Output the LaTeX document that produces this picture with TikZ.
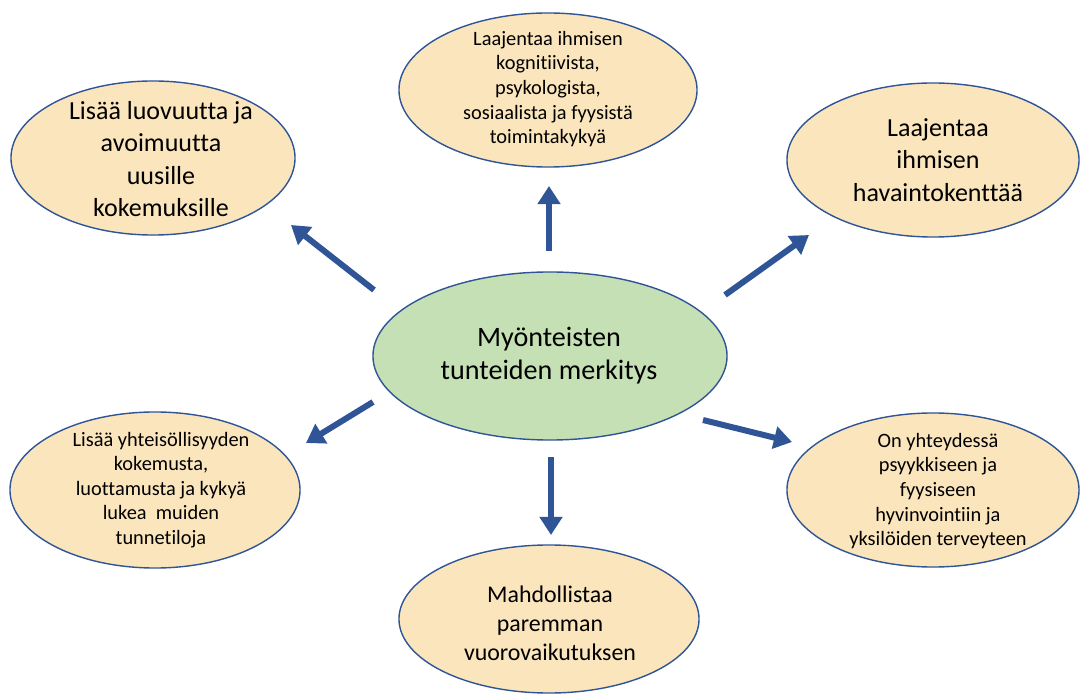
\documentclass[tikz,border=0pt]{standalone}
\usepackage{fontspec}
\setmainfont{Carlito}[Ligatures=NoCommon]
\usetikzlibrary{arrows.meta,shapes.geometric}
\definecolor{bubblefill}{RGB}{251,229,188}
\definecolor{centerfill}{RGB}{197,224,180}
\definecolor{edgeblue}{RGB}{47,85,151}
\tikzset{
  bubble/.style={ellipse, draw=edgeblue, line width=1pt, fill=bubblefill, inner sep=0pt},
  bigtext/.style={align=center, font=\fontsize{18.5}{23}\selectfont},
  smalltext/.style={align=center, font=\fontsize{14.5}{17.5}\selectfont},
  bluearrow/.style={-{Triangle[width=0.55cm,length=0.45cm]}, line width=0.15cm, draw=edgeblue},
}

\begin{document}
\begin{tikzpicture}[x=0.025cm, y=-0.025cm]
  \useasboundingbox (0,0) rectangle (1080,695);

  % Ellipses with absolute positioning
  \node[bubble, fill=centerfill, minimum width=8.85cm, minimum height=4.2cm] (merkitys) at (550,356) {};
  \node[bubble, minimum width=7.1cm, minimum height=3.85cm] (luovuus) at (153,158) {};
  \node[bubble, minimum width=7.45cm, minimum height=3.85cm] (toimintakyky) at (548,90) {};
  \node[bubble, minimum width=7.3cm, minimum height=3.85cm] (havainto) at (933,160) {};
  \node[bubble, minimum width=7.25cm, minimum height=3.9cm] (yhteiso) at (155,490) {};
  \node[bubble, minimum width=7.3cm, minimum height=3.85cm] (terveys) at (933,490) {};
  \node[bubble, minimum width=7.5cm, minimum height=3.7cm] (vuorovaikutus) at (549,619) {};

  % Texts
  \node[align=center, font=\fontsize{20}{23.5}\selectfont] (merkitysteksti) at (549,356) {Myönteisten\\tunteiden merkitys};
  \node[bigtext] (luovuusteksti) at (161,159) {Lisää luovuutta ja\\avoimuutta\\uusille\\kokemuksille};
  \node[smalltext] (toimintakykyteksti) at (548,89) {Laajentaa ihmisen\\kognitiivista,\\psykologista,\\sosiaalista ja fyysistä\\toimintakykyä};
  \node[bigtext] (havaintoteksti) at (938,160) {Laajentaa\\ihmisen\\havaintokenttää};
  \node[smalltext] (yhteisoteksti) at (161,490) {Lisää yhteisöllisyyden\\kokemusta,\\luottamusta ja kykyä\\lukea\ \ muiden\\tunnetiloja};
  \node[smalltext] (terveysteksti) at (938,491) {On yhteydessä\\psyykkiseen ja\\fyysiseen\\hyvinvointiin ja\\yksilöiden terveyteen};
  \node[align=center, font=\fontsize{17}{20.5}\selectfont] (vuorovaikutusteksti) at (550,623) {Mahdollistaa\\paremman\\vuorovaikutuksen};

  % Arrow ends
  \coordinate (a1) at (374,290); \coordinate (b1) at (291,225);
  \coordinate (a2) at (549,251); \coordinate (b2) at (549,186);
  \coordinate (a3) at (725,295); \coordinate (b3) at (809,235);
  \coordinate (a4) at (373,402); \coordinate (b4) at (306,443);
  \coordinate (a5) at (551,457); \coordinate (b5) at (551,535);
  \coordinate (a6) at (703,420); \coordinate (b6) at (792,442);

  % Arrows
  \draw[bluearrow] (a1) -- (b1);
  \draw[bluearrow] (a2) -- (b2);
  \draw[bluearrow] (a3) -- (b3);
  \draw[bluearrow] (a4) -- (b4);
  \draw[bluearrow] (a5) -- (b5);
  \draw[bluearrow] (a6) -- (b6);
\end{tikzpicture}
\end{document}
